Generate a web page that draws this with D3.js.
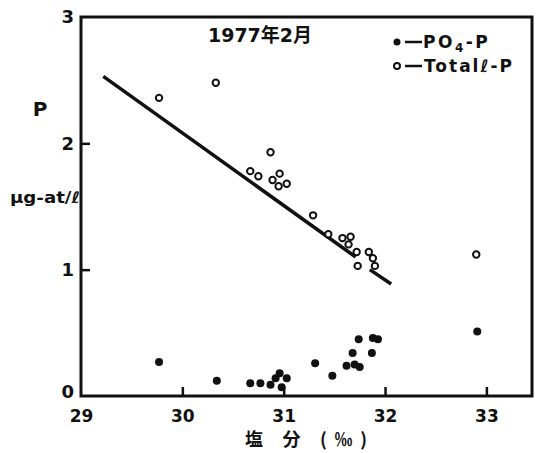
<!DOCTYPE html>
<html lang="ja">
<head>
<meta charset="UTF-8">
<title>P vs salinity, 1977年2月</title>
<script src="https://cdn.jsdelivr.net/npm/d3@7"></script>
<style>
    body { margin: 0; background: #fff; }
    text { font-family: "DejaVu Sans", sans-serif; font-weight: bold; fill: #111; }
</style>
</head>
<body>
<script>
    // salinity (‰) and PO4-P (µg-at/ℓ)
    const po4Sal = [29.77, 30.34, 30.67, 30.77, 30.87, 30.92, 30.96, 31.03, 30.98, 31.31,
                    31.48, 31.62, 31.68, 31.70, 31.75, 31.74, 31.87, 31.88, 31.93, 32.91];
    const po4Val = [0.27, 0.12, 0.10, 0.10, 0.09, 0.14, 0.18, 0.14, 0.07, 0.26,
                    0.16, 0.24, 0.34, 0.25, 0.23, 0.45, 0.34, 0.46, 0.45, 0.51];

    // salinity (‰) and Total-P
    const totSal = [29.77, 30.33, 30.87, 30.67, 30.75, 30.96, 30.89, 30.95, 31.03, 31.29,
                    31.44, 31.58, 31.66, 31.64, 31.72, 31.73, 31.84, 31.88, 31.90, 32.90];
    const totVal = [2.36, 2.48, 1.93, 1.78, 1.74, 1.76, 1.71, 1.66, 1.68, 1.43,
                    1.28, 1.25, 1.26, 1.20, 1.14, 1.03, 1.14, 1.09, 1.03, 1.12];

    // hand-drawn regression line (two pieces, as in the original)
    const fitPieces = [
        [[29.22, 2.53], [31.71, 1.10]],
        [[31.85, 1.00], [32.06, 0.886]]
    ];

    const xTicks = [29, 30, 31, 32, 33];
    const yTicks = [0, 1, 2, 3];

    const width = 536, height = 453;
    const svg = d3.select("body").append("svg")
        .attr("width", width).attr("height", height);

    const x = d3.scaleLinear().domain([29, 33.45]).range([81, 532]);
    const y = d3.scaleLinear().domain([0, 3]).range([396, 17]);

    // frame
    svg.append("rect")
        .attr("x", x(29)).attr("y", y(3))
        .attr("width", x(33.45) - x(29)).attr("height", y(0) - y(3))
        .attr("fill", "none").attr("stroke", "#111").attr("stroke-width", 3);

    // x axis: inner ticks, labels below
    const xAxis = d3.axisBottom(x).tickValues(xTicks).tickSize(-9).tickPadding(14)
        .tickFormat(d3.format("d"));
    const gx = svg.append("g").attr("transform", `translate(0,${y(0)})`).call(xAxis);
    gx.select(".domain").remove();
    gx.selectAll(".tick line").attr("stroke", "#111").attr("stroke-width", 2.5)
        .filter(d => d === 29).remove();
    gx.selectAll(".tick text").attr("font-size", 17).style("font-family", "DejaVu Sans")
        .style("font-weight", "bold").attr("fill", "#111");

    // y axis
    const yAxis = d3.axisLeft(y).tickValues(yTicks).tickSize(-9).tickPadding(7)
        .tickFormat(d3.format("d"));
    const gy = svg.append("g").attr("transform", `translate(${x(29)},0)`).call(yAxis);
    gy.select(".domain").remove();
    gy.selectAll(".tick line").attr("stroke", "#111").attr("stroke-width", 2.5)
        .filter(d => d === 0 || d === 3).remove();
    gy.selectAll(".tick text").attr("font-size", 18).style("font-family", "DejaVu Sans")
        .style("font-weight", "bold").attr("fill", "#111")
        .attr("dy", d => d === 0 ? "0.1em" : "0.32em");

    // axis titles
    svg.append("text").attr("x", 40).attr("y", 116).attr("text-anchor", "middle")
        .attr("font-size", 20).text("P");
    svg.append("text").attr("x", 10).attr("y", 203).attr("font-size", 16)
        .attr("textLength", 70).attr("lengthAdjust", "spacingAndGlyphs").text("µg-at/ℓ");
    svg.append("text").attr("x", 245).attr("y", 446)
        .attr("font-size", 18).attr("textLength", 122).attr("lengthAdjust", "spacing")
        .style("font-family", "'Noto Sans CJK JP', 'DejaVu Sans', sans-serif")
        .text("塩 分 (‰)");

    // title
    svg.append("text").attr("x", 260).attr("y", 42).attr("text-anchor", "middle")
        .attr("font-size", 19)
        .style("font-family", "'DejaVu Sans', 'Noto Sans CJK JP', sans-serif")
        .text("1977年2月");

    // regression line
    const line = d3.line().x(d => x(d[0])).y(d => y(d[1]));
    svg.selectAll("path.fit").data(fitPieces).join("path").attr("class", "fit")
        .attr("d", line).attr("fill", "none").attr("stroke", "#111")
        .attr("stroke-width", 3.5);

    // Total-P open circles
    svg.selectAll("circle.tot").data(totSal).join("circle").attr("class", "tot")
        .attr("cx", d => x(d)).attr("cy", (d, i) => y(totVal[i]))
        .attr("r", 3.2).attr("fill", "#fff").attr("stroke", "#111").attr("stroke-width", 2);

    // PO4-P filled dots
    svg.selectAll("circle.po4").data(po4Sal).join("circle").attr("class", "po4")
        .attr("cx", d => x(d)).attr("cy", (d, i) => y(po4Val[i]))
        .attr("r", 4).attr("fill", "#111");

    // legend
    const lg = svg.append("g");
    lg.append("circle").attr("cx", 397).attr("cy", 42).attr("r", 3.5).attr("fill", "#111");
    lg.append("line").attr("x1", 405).attr("x2", 422).attr("y1", 42).attr("y2", 42)
        .attr("stroke", "#111").attr("stroke-width", 2.5);
    const t1 = lg.append("text").attr("x", 423).attr("y", 48).attr("font-size", 17)
        .attr("letter-spacing", 2.5);
    t1.append("tspan").text("PO");
    t1.append("tspan").attr("font-size", 12).attr("dy", 4).text("4");
    t1.append("tspan").attr("dy", -4).text("-P");

    lg.append("circle").attr("cx", 397).attr("cy", 66).attr("r", 3).attr("fill", "#fff")
        .attr("stroke", "#111").attr("stroke-width", 2);
    lg.append("line").attr("x1", 405).attr("x2", 422).attr("y1", 66).attr("y2", 66)
        .attr("stroke", "#111").attr("stroke-width", 2.5);
    const t2 = lg.append("text").attr("x", 424).attr("y", 72).attr("font-size", 17)
        .attr("letter-spacing", 2);
    t2.append("tspan").text("Total");
    t2.append("tspan").style("font-style", "italic").text("ℓ");
    t2.append("tspan").text("-P");
</script>
</body>
</html>
